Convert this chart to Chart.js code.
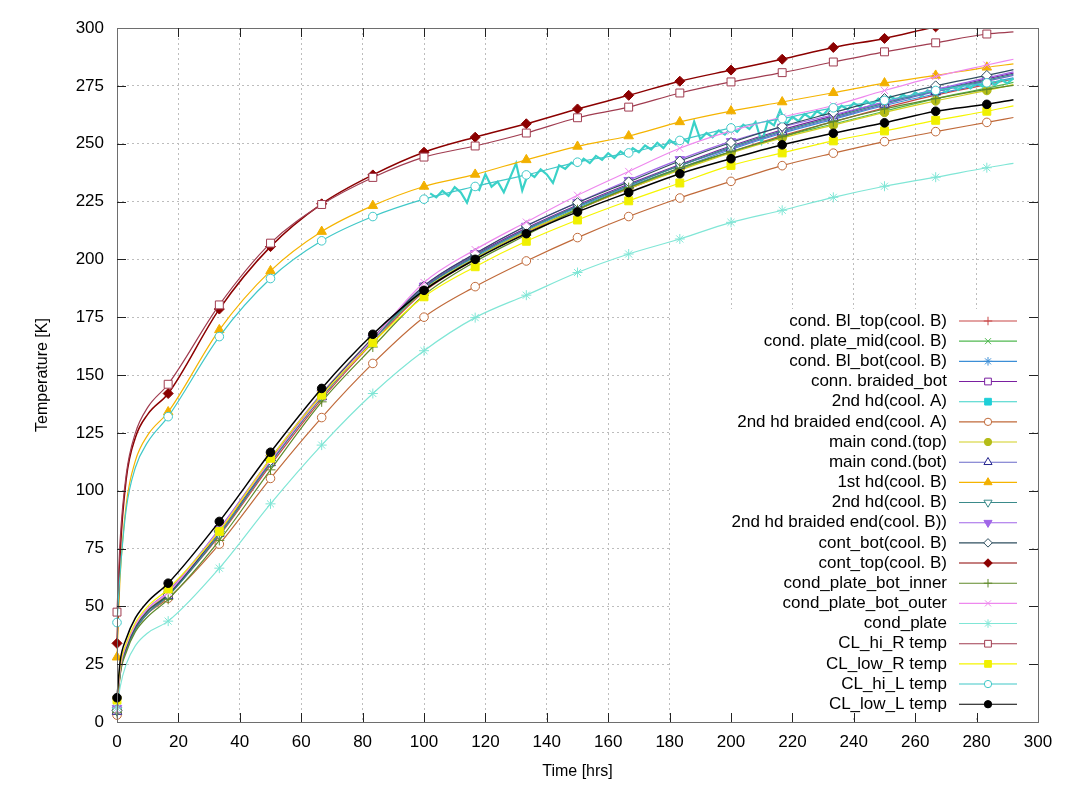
<!DOCTYPE html>
<html>
<head>
<meta charset="utf-8">
<title>Temperature [K]</title>
<script src="https://cdn.jsdelivr.net/npm/chart.js@4/dist/chart.umd.min.js"></script>
<style>
  html, body { margin: 0; padding: 0; background: #fff; }
</style>
</head>
<body>
<canvas id="canvastemp" width="1074" height="802"></canvas>
<script>
'use strict'

  ////////////////////////////////
 // Messzeiten und Temperaturen //
////////////////////////////////

const HOURS = [0, 1, 3, 6, 10, 16.67, 33.33, 50, 66.67, 83.33, 100, 116.67, 133.33, 150,
  166.67, 183.33, 200, 216.67, 233.33, 250, 266.67, 283.33, 292];

const blTop          = [5, 21, 31, 40, 47, 55, 80.5, 111, 139.5, 164, 186, 200, 211.5, 221.5, 230.5, 239, 246.5, 253.5, 259.5, 265.5, 271, 275.5, 278];
const plateMid       = [5, 22, 32, 41, 48, 55.5, 82, 112.5, 141, 165, 186.5, 200.5, 212, 222, 231, 239, 246.5, 253, 258.5, 264, 269.5, 274, 276.5];
const blBot          = [5, 22, 32, 41, 48, 55.5, 82.5, 113, 141.5, 165.5, 187.5, 201, 212.5, 222.5, 231.5, 239.5, 247.5, 254.5, 260.5, 266.5, 271.5, 276, 278.5];
const connBraidedBot = [5, 22, 32, 41, 48, 55, 82, 112.5, 141, 165.5, 188, 202, 213.5, 223.5, 232.5, 241, 249, 256, 262, 268, 273, 278, 280.5];
const braidedEndA    = [3, 20, 32, 41, 47, 53.5, 76.9, 105.3, 131.6, 155, 175, 188.2, 199.3, 209.4, 218.5, 226.5, 233.7, 240.5, 245.9, 250.9, 255.2, 259.2, 261.3];
const mainTop        = [5, 22, 32, 41, 48, 56, 83, 113.5, 142, 166, 187, 200.5, 212, 221.5, 230.5, 238.5, 246, 252.5, 258, 263.5, 268.5, 273, 275.5];
const mainBot        = [4.5, 21, 31, 40, 47, 54.5, 81.5, 112, 140.5, 165, 187.5, 201.5, 213, 223, 232, 240.5, 248, 255, 261, 267, 272.5, 277, 279.5];
const firstHdB       = [28, 62, 94, 113, 124, 134, 169.5, 195, 212, 223.2, 231.5, 236.7, 243, 248.8, 253.3, 259.4, 264.1, 268, 272, 276.2, 279.5, 283, 284.5];
const secondHdB      = [5, 21, 31, 40, 47, 54.5, 81, 112, 140.5, 165, 187.5, 201.5, 213, 223, 232, 240.5, 248.5, 255.5, 261.5, 267.5, 273, 277.5, 280];
const braidedEndB    = [6, 23, 33, 42, 49, 56.5, 83.5, 114, 142, 166, 188.5, 202.5, 214.4, 224.6, 234.2, 243.2, 251, 257.2, 262.5, 268, 273.5, 278.5, 281];
const contBot        = [5, 22, 32, 41, 48, 55, 82.5, 113, 141.5, 166, 188.5, 202.5, 214.5, 224.5, 233.5, 242.5, 250.5, 257.5, 263.5, 269.5, 275, 279.5, 282];
const contTop        = [34, 72, 105, 123, 133, 142, 178.5, 205.5, 224, 236.5, 246.3, 252.8, 258.6, 265, 270.9, 277, 281.8, 286.5, 291.6, 295.5, 300.5, 304.5, 306.5];
const plateBotInner  = [4, 20, 30, 39, 45.5, 53, 78.5, 109, 138.4, 162.1, 184.5, 199, 210.5, 221.5, 231, 239.5, 246.5, 253, 259.5, 265, 269.5, 273.5, 275.2];
const plateBotOuter  = [5, 22, 33, 42, 49, 56, 83, 113, 141, 165.5, 190, 204.2, 216.1, 227.7, 238, 248, 255.5, 261.5, 266.5, 273, 279, 284, 286.5];
const condPlate      = [6, 15, 25, 33, 38.5, 43.6, 66.5, 94.3, 119.7, 142, 160.5, 174.8, 184.5, 194.3, 202.3, 208.8, 216, 221.2, 226.8, 231.6, 235.5, 239.6, 241.5];
const clHiR          = [47.5, 78, 107, 125, 136, 146, 180.3, 207, 223.7, 235.4, 244.2, 249, 254.6, 261.2, 265.8, 271.9, 276.7, 280.7, 285.3, 289.7, 293.6, 297.4, 298.3];
const clLowR         = [9.5, 24, 34, 43, 50, 57.5, 82.4, 114, 141.3, 164, 183.8, 196.8, 207.8, 217, 225.3, 233, 240.6, 246, 251.2, 255.5, 260.1, 264, 266.3];
const clHiL          = [43, 64, 92, 110, 121, 132, 166.6, 191.7, 208, 218.5, 226, 231.5, 236.5, 242, 246, 251.4, 256.8, 260.8, 265.5, 268.7, 273, 276.3, 278];
const clLowL         = [10.5, 26, 36, 45, 52, 60, 86.7, 116.6, 144.2, 167.6, 186.6, 200, 211.1, 220.5, 228.9, 237, 243.5, 249.5, 254.5, 259, 264, 267, 269];

// 2nd hd(cool. A): verrauschte Messung ab 100 h
const noiseHours = [102, 104, 106, 108, 110, 112, 114, 116, 118, 120, 122, 124, 126, 128, 130, 132,
  134, 136, 138, 140, 142, 144, 146, 148, 150, 152, 154, 156, 158, 160, 162, 164, 166, 168, 170,
  172, 174, 176, 178, 180, 182, 184, 186, 188, 190, 192, 194, 196, 198, 200, 202, 204, 206, 208,
  210, 212, 214, 216, 218, 220, 222, 224, 226, 228, 230, 232, 234, 236, 238, 240, 242, 244, 246,
  248, 250, 252, 254, 256, 258, 260, 262, 264, 266, 268, 270, 272, 274, 276, 278, 280, 282, 284,
  286, 288, 290, 292];
const noiseValues = [228.5, 226.8, 229.6, 227.4, 231.2, 228.9, 224.5, 232.1, 230.0, 236.8, 231.4,
  233.6, 229.0, 235.2, 241.5, 229.8, 237.4, 235.6, 238.9, 236.7, 233.0, 240.6, 239.1, 241.8, 240.4,
  243.5, 241.6, 244.7, 243.0, 245.9, 243.8, 246.6, 244.9, 248.0, 246.3, 249.2, 247.5, 250.4, 248.1,
  251.6, 249.7, 252.5, 250.6, 259.5, 251.9, 254.6, 252.8, 255.7, 253.9, 257.0, 255.1, 258.2, 256.3,
  259.4, 250.5, 259.8, 257.9, 264.5, 258.4, 261.6, 259.7, 262.8, 261.0, 264.1, 262.3, 265.3, 263.6,
  266.4, 264.8, 267.6, 265.9, 268.6, 266.7, 269.5, 267.9, 270.4, 268.8, 271.3, 269.6, 272.2, 270.5,
  273.0, 271.6, 274.0, 272.3, 274.8, 273.2, 275.6, 273.9, 276.3, 274.7, 277.0, 275.4, 277.6, 276.1,
  278.2];

const LABELS = [
  'cond. Bl_top(cool. B)', 'cond. plate_mid(cool. B)', 'cond. Bl_bot(cool. B)', 'conn. braided_bot',
  '2nd hd(cool. A)', '2nd hd braided end(cool. A)', 'main cond.(top)', 'main cond.(bot)',
  '1st hd(cool. B)', '2nd hd(cool. B)', '2nd hd braided end(cool. B))', 'cont_bot(cool. B)',
  'cont_top(cool. B)', 'cond_plate_bot_inner', 'cond_plate_bot_outer', 'cond_plate',
  'CL_hi_R temp', 'CL_low_R temp', 'CL_hi_L temp', 'CL_low_L temp'
];

const SERIES = [blTop, plateMid, blBot, connBraidedBot, null, braidedEndA, mainTop, mainBot,
  firstHdB, secondHdB, braidedEndB, contBot, contTop, plateBotInner, plateBotOuter, condPlate,
  clHiR, clLowR, clHiL, clLowL];

  /////////////////////////////////////
 // Aussehen der Linien und Punkte  //
/////////////////////////////////////

const STYLES = [
  { line: '#c84646', mark: '#c84646', point: 'cross',    r: 5,   fill: 'none' },
  { line: '#50b850', mark: '#50b850', point: 'crossRot', r: 5,   fill: 'none' },
  { line: '#3c8ed6', mark: '#3c8ed6', point: 'star',     r: 5,   fill: 'none' },
  { line: '#7a1fa0', mark: '#7a1fa0', point: 'rect',     r: 5.6, fill: 'open' },
  { line: '#3ad2c8', mark: '#1ecfd8', point: 'rect',     r: 5.6, fill: 'full' },
  { line: '#c06a3a', mark: '#c06a3a', point: 'circle',   r: 4.3, fill: 'open' },
  { line: '#d2d020', mark: '#b4bc18', point: 'circle',   r: 4.3, fill: 'full' },
  { line: '#6a6ac8', mark: '#26268e', point: 'triangle', r: 5.5, fill: 'open' },
  { line: '#f5b400', mark: '#f2b000', point: 'triangle', r: 5.5, fill: 'full' },
  { line: '#3a8a8a', mark: '#3a8a8a', point: 'triangle', r: 5.5, fill: 'open', rot: 180 },
  { line: '#a066e8', mark: '#a066e8', point: 'triangle', r: 5.5, fill: 'full', rot: 180 },
  { line: '#2f4f5f', mark: '#2f4f5f', point: 'rectRot',  r: 5,   fill: 'open' },
  { line: '#8b0000', mark: '#8b0000', point: 'rectRot',  r: 5,   fill: 'full' },
  { line: '#5f8a2a', mark: '#5f8a2a', point: 'cross',    r: 5,   fill: 'none' },
  { line: '#ee88ee', mark: '#ee88ee', point: 'crossRot', r: 5,   fill: 'none' },
  { line: '#80e6d6', mark: '#80e6d6', point: 'star',     r: 5,   fill: 'none' },
  { line: '#a03c50', mark: '#a03c50', point: 'rect',     r: 5.6, fill: 'open' },
  { line: '#f5f500', mark: '#f0f000', point: 'rect',     r: 5.6, fill: 'full' },
  { line: '#40c8c8', mark: '#40c8c8', point: 'circle',   r: 4.3, fill: 'open' },
  { line: '#000000', mark: '#000000', point: 'circle',   r: 4.3, fill: 'full' }
];

const FONT = "'Liberation Sans', Arial, sans-serif";

/**
 * Punkt nur alle 16.67 h zeichnen (wie gnuplot pointinterval)
 * @param {Number} h
 */
const isMarker = h => {
  const k = h * 3 / 50;
  return h < 290 && Math.abs(k - Math.round(k)) < 0.01;
}

const markFill = st => st.fill === 'open' ? '#ffffff' : st.mark;

/**
 * @param {Array} values
 */
const toPoints = values => values.map((v, i) => ({ x: HOURS[i], y: v }));

const datasets = SERIES.map((values, i) => {
  const st = STYLES[i];
  const noisy = values === null;
  return {
    label: LABELS[i],
    data: noisy ? noiseHours.map((h, j) => ({ x: h, y: noiseValues[j] })) : toPoints(values),
    borderColor: st.line,
    borderWidth: noisy ? 2.2 : (i === 19 || i === 12 ? 1.5 : 1.2),
    cubicInterpolationMode: noisy ? 'default' : 'monotone',
    tension: 0,
    pointStyle: st.point,
    pointRotation: st.rot || 0,
    pointRadius: noisy ? 0 : ctx => (ctx.raw && isMarker(ctx.raw.x)) ? st.r : 0,
    pointBorderColor: st.mark,
    pointBackgroundColor: markFill(st),
    pointBorderWidth: 1,
    order: SERIES.length - i,
    clip: { left: 10, top: 0, right: 0, bottom: 10 }
  };
});

  ////////////////////////////////////////////////////////
 // Rahmen, Ticks nach innen, Achsentitel und Legende   //
////////////////////////////////////////////////////////

const gnuplotLook = {
  id: 'gnuplotLook',
  beforeDatasetsDraw(chart) {
    const ctx = chart.ctx;
    ctx.save();
    ctx.fillStyle = '#ffffff';
    ctx.fillRect(672, 309, 358, 409);
    ctx.restore();
  },
  afterDraw(chart) {
    const { ctx, chartArea: a, scales: { x, y } } = chart;
    ctx.save();

    ctx.strokeStyle = '#6e6e6e';
    ctx.lineWidth = 1;
    ctx.strokeRect(Math.round(a.left) + 0.5, Math.round(a.top) + 0.5,
      Math.round(a.right - a.left), Math.round(a.bottom - a.top));

    ctx.strokeStyle = '#222';
    ctx.beginPath();
    for (let v = 20; v < 300; v += 20) {
      const px = Math.round(x.getPixelForValue(v)) + 0.5;
      ctx.moveTo(px, a.bottom); ctx.lineTo(px, a.bottom - 9);
      ctx.moveTo(px, a.top); ctx.lineTo(px, a.top + 9);
    }
    for (let v = 25; v < 300; v += 25) {
      const py = Math.round(y.getPixelForValue(v)) + 0.5;
      ctx.moveTo(a.left, py); ctx.lineTo(a.left + 9, py);
      ctx.moveTo(a.right, py); ctx.lineTo(a.right - 9, py);
    }
    ctx.stroke();

    // Achsentitel
    ctx.fillStyle = '#000';
    ctx.font = '16px ' + FONT;
    ctx.textAlign = 'center';
    ctx.textBaseline = 'middle';
    ctx.fillText('Time [hrs]', (a.left + a.right) / 2, 772);
    ctx.save();
    ctx.translate(43, (a.top + a.bottom) / 2);
    ctx.rotate(-Math.PI / 2);
    ctx.fillText('Temperature [K]', 0, 0);
    ctx.restore();

    // Legende
    ctx.font = '17px ' + FONT;
    ctx.textAlign = 'right';
    LABELS.forEach((label, i) => {
      const st = STYLES[i];
      const ly = 321 + i * 20.17;
      ctx.fillStyle = '#000';
      ctx.fillText(label, 947, ly);
      ctx.strokeStyle = st.line;
      ctx.lineWidth = 1.1;
      ctx.beginPath();
      ctx.moveTo(959, ly); ctx.lineTo(1017, ly);
      ctx.stroke();
      ctx.strokeStyle = st.mark;
      ctx.fillStyle = markFill(st);
      ctx.lineWidth = 1;
      Chart.helpers.drawPoint(ctx, {
        pointStyle: st.point, radius: st.r * 0.85, rotation: st.rot || 0, borderWidth: 1
      }, 988, ly);
    });
    ctx.restore();
  }
};

  ///////////////////////
 // Diagramm erzeugen //
///////////////////////

window.onload = () => {

  Chart.defaults.font.family = FONT;
  Chart.defaults.font.size = 17;
  Chart.defaults.color = '#000';

  new Chart(
    document.getElementById('canvastemp'),
    {
      type: 'line',
      data: { datasets },
      options: {
        responsive: false,
        animation: false,
        events: [],
        layout: { padding: { left: 0, top: 28, right: 36, bottom: 0 } },
        plugins: {
          legend: { display: false },
          tooltip: { enabled: false }
        },
        scales: {
          x: {
            type: 'linear',
            min: 0,
            max: 300,
            afterFit: scale => { scale.height = 80; },
            ticks: { stepSize: 20, padding: 10, maxRotation: 0 },
            grid: { color: '#bdbdbd', lineWidth: 1, drawTicks: false },
            border: { display: false, dash: [2, 3] }
          },
          y: {
            min: 0,
            max: 300,
            afterFit: scale => { scale.width = 117; },
            ticks: { stepSize: 25, padding: 13 },
            grid: { color: '#bdbdbd', lineWidth: 1, drawTicks: false },
            border: { display: false, dash: [2, 3] }
          }
        }
      },
      plugins: [gnuplotLook]
    }
  );
}
</script>
</body>
</html>
